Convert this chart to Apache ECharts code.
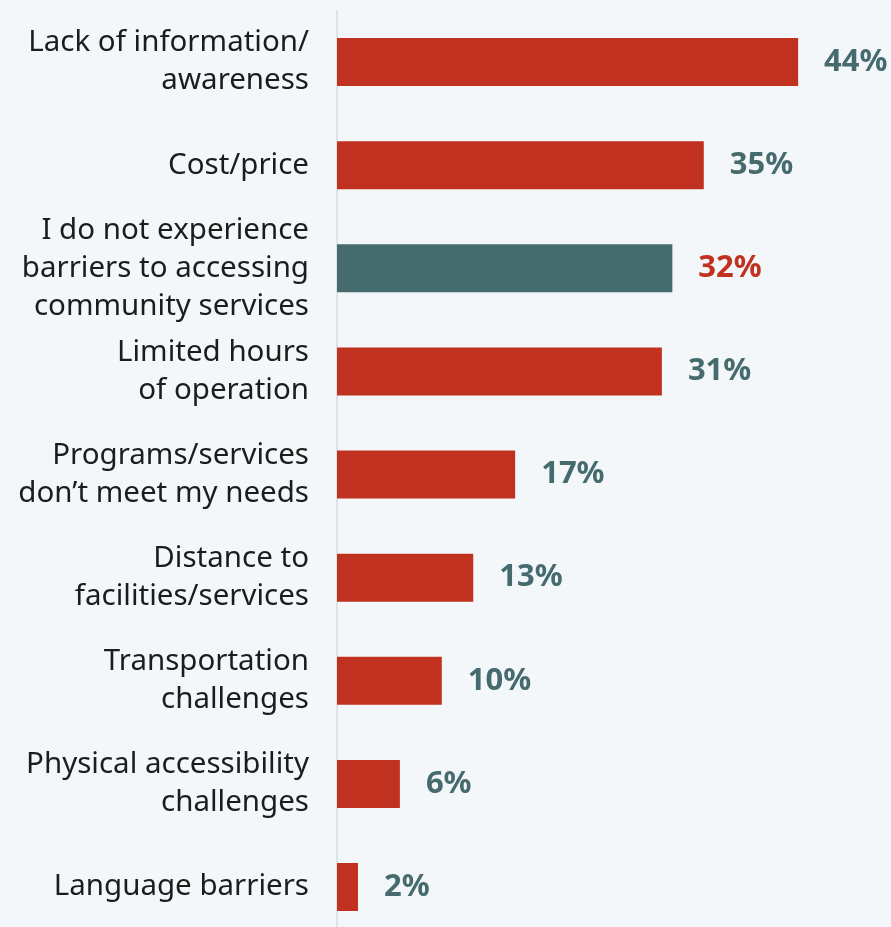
<!DOCTYPE html>
<html>
<head>
<meta charset="utf-8">
<script src="https://cdn.jsdelivr.net/npm/echarts@6/dist/echarts.min.js"></script>
<style>
  html, body { margin: 0; padding: 0; background: #f4f7f9; }
  #chart { width: 891px; height: 927px; }
</style>
</head>
<body>
<div id="chart"></div>
<script>
// Barriers to accessing community services (share of respondents, %)
const categories = [
  'Lack of information/\nawareness',
  'Cost/price',
  'I do not experience\nbarriers to accessing\ncommunity services',
  'Limited hours\nof operation',
  'Programs/services\ndon\u2019t meet my needs',
  'Distance to\nfacilities/services',
  'Transportation\nchallenges',
  'Physical accessibility\nchallenges',
  'Language barriers'
];
const values = [44, 35, 32, 31, 17, 13, 10, 6, 2];
// index of the "no barriers" answer, drawn in the contrasting colour
const highlightIndex = 2;

const RED = '#c0311f';
const TEAL = '#466b6e';
const FONT = 'Noto Sans';

const chart = echarts.init(document.getElementById('chart'));
chart.setOption({
  backgroundColor: '#f4f7f9',
  animation: false,
  grid: [
    // bars: categories sit on ticks, first and last at the grid edges
    { left: 337, top: 62, bottom: 40, width: 524 },
    // full-height baseline running down the left of the bars
    { left: 337, top: 11, bottom: 0, width: 524 }
  ],
  xAxis: [
    { gridIndex: 0, type: 'value', min: 0, max: 50, show: false },
    { gridIndex: 1, type: 'value', min: 0, max: 50, show: false }
  ],
  yAxis: [
    {
      gridIndex: 0,
      type: 'category',
      data: categories,
      inverse: true,
      boundaryGap: false,
      axisLine: { show: false },
      axisTick: { show: false },
      splitLine: { show: false },
      axisLabel: {
        margin: 28,
        color: '#1c1c1c',
        fontFamily: FONT,
        fontSize: 29.5,
        lineHeight: 38,
        align: 'right'
      }
    },
    {
      gridIndex: 1,
      type: 'value',
      min: 0, max: 1,
      axisLine: { show: true, lineStyle: { color: '#dde4e8', width: 2 } },
      axisTick: { show: false },
      axisLabel: { show: false },
      splitLine: { show: false }
    }
  ],
  series: [{
    type: 'bar',
    xAxisIndex: 0,
    yAxisIndex: 0,
    barWidth: 48,
    data: values.map((v, i) => ({
      value: v,
      itemStyle: { color: i === highlightIndex ? TEAL : RED },
      label: { color: i === highlightIndex ? RED : TEAL }
    })),
    label: {
      show: true,
      position: 'right',
      distance: 26,
      formatter: '{c}%',
      fontFamily: FONT,
      fontWeight: 'bold',
      fontSize: 31
    }
  }]
});
</script>
</body>
</html>
